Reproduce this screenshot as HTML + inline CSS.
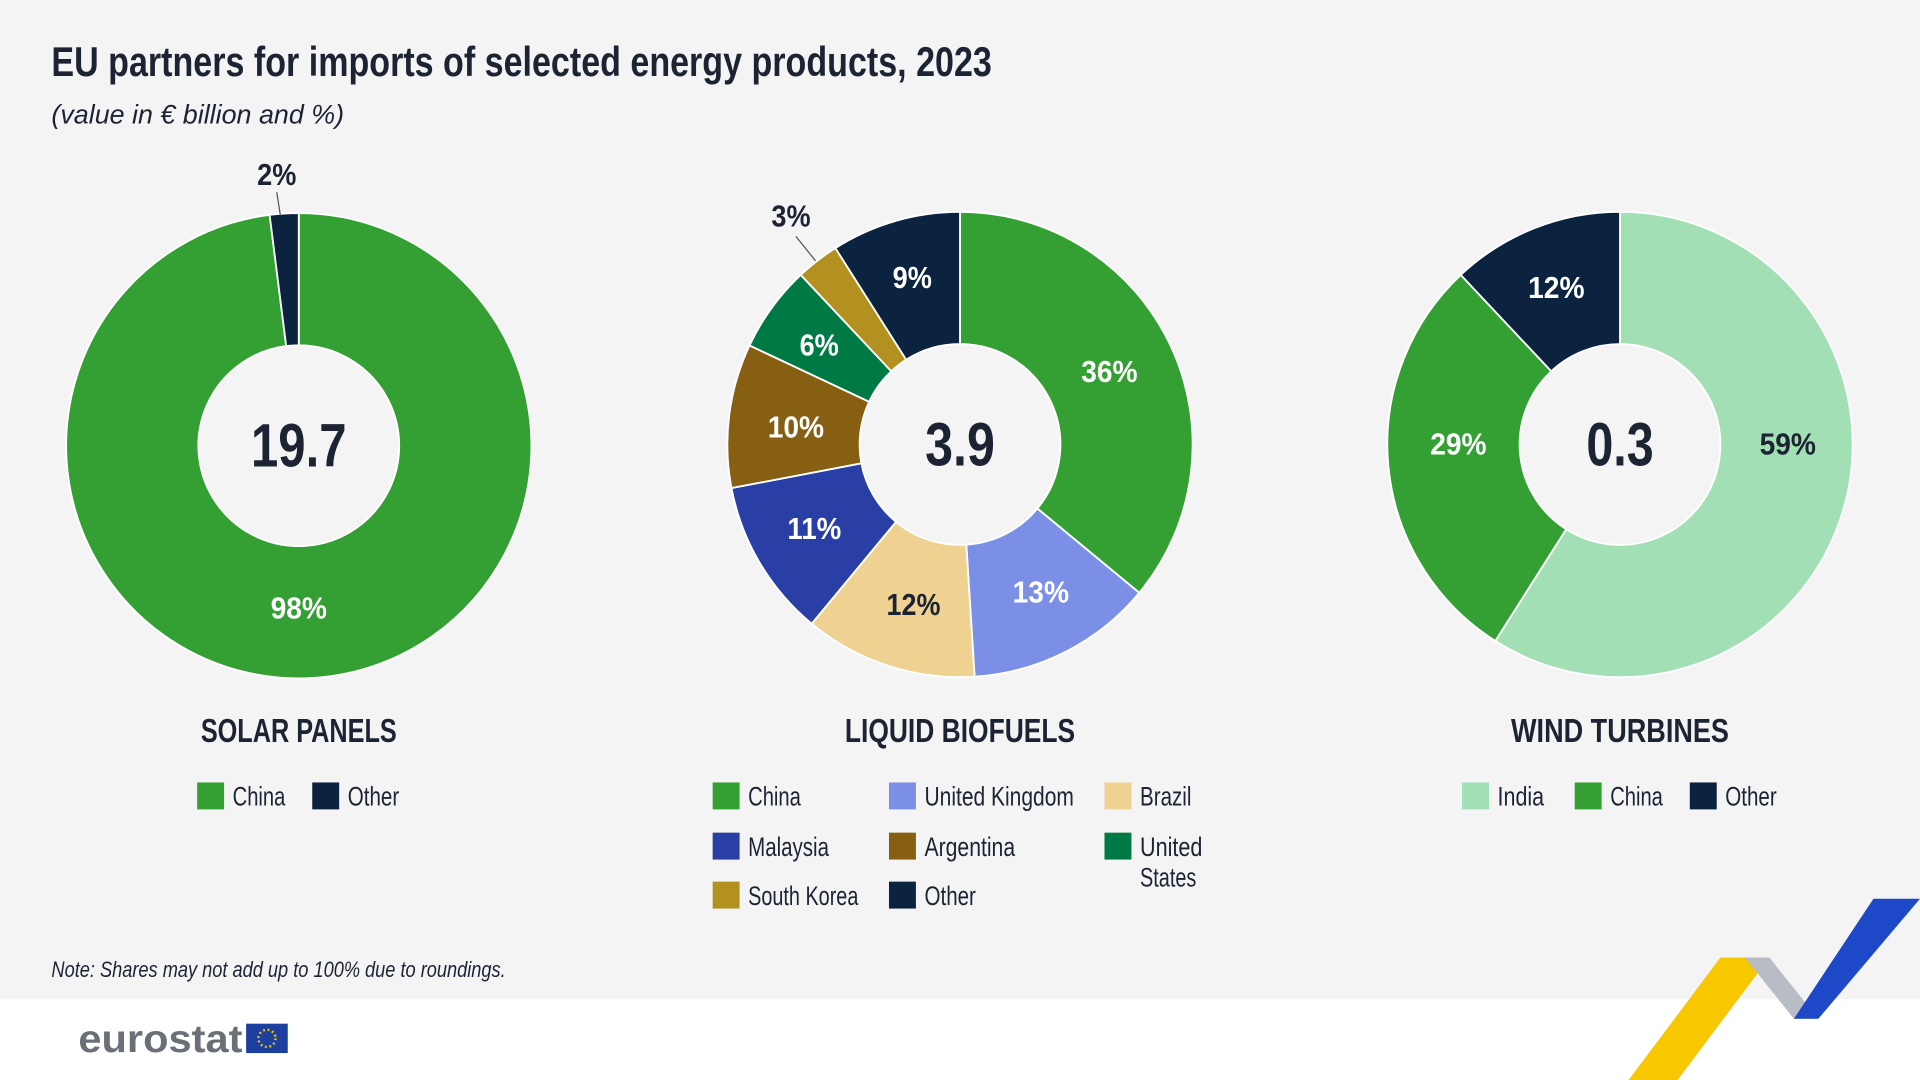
<!DOCTYPE html>
<html><head><meta charset="utf-8"><style>
html,body{margin:0;padding:0;background:#f4f4f4;}
svg{display:block;}
text{font-family:"Liberation Sans",sans-serif;fill:#1c2333;}
.b{font-weight:bold;}
.w{fill:#fff;font-weight:bold;font-size:25px;text-anchor:middle;dominant-baseline:central;}
.d{fill:#1c2333;font-weight:bold;font-size:25px;text-anchor:middle;dominant-baseline:central;}
.c{font-weight:bold;font-size:50px;text-anchor:middle;dominant-baseline:central;}
.h{font-weight:bold;font-size:27px;text-anchor:middle;}
.l{font-size:22px;}
</style></head><body>
<svg id="s" width="1920" height="1080" viewBox="0 0 1568 882" xmlns="http://www.w3.org/2000/svg">
<rect width="1568" height="882" fill="#f4f4f4"/>
<rect y="816" width="1568" height="66" fill="#ffffff"/>
<text x="42" y="62" class="b" font-size="34" textLength="768" lengthAdjust="spacingAndGlyphs">EU partners for imports of selected energy products, 2023</text>
<text x="42" y="101" font-size="22" font-style="italic" textLength="239" lengthAdjust="spacingAndGlyphs">(value in € billion and %)</text>
<g id="pies"></g>
<text x="244" y="364" class="c" textLength="78" lengthAdjust="spacingAndGlyphs">19.7</text>
<text x="784" y="363" class="c" textLength="57" lengthAdjust="spacingAndGlyphs">3.9</text>
<text x="1323" y="363" class="c" textLength="55" lengthAdjust="spacingAndGlyphs">0.3</text>
<text x="244" y="497" class="w" textLength="46" lengthAdjust="spacingAndGlyphs">98%</text>
<text x="226" y="143" class="d" textLength="32" lengthAdjust="spacingAndGlyphs">2%</text>
<line x1="226" y1="157" x2="229" y2="176" stroke="#555" stroke-width="1"/>
<text x="906" y="304" class="w" textLength="46" lengthAdjust="spacingAndGlyphs">36%</text>
<text x="850" y="484" class="w" textLength="46" lengthAdjust="spacingAndGlyphs">13%</text>
<text x="746" y="494" class="d" textLength="44" lengthAdjust="spacingAndGlyphs">12%</text>
<text x="665" y="432" class="w" textLength="44" lengthAdjust="spacingAndGlyphs">11%</text>
<text x="650" y="349" class="w" textLength="46" lengthAdjust="spacingAndGlyphs">10%</text>
<text x="669" y="282" class="w" textLength="32" lengthAdjust="spacingAndGlyphs">6%</text>
<text x="646" y="177" class="d" textLength="32" lengthAdjust="spacingAndGlyphs">3%</text>
<line x1="650" y1="193" x2="666" y2="213" stroke="#555" stroke-width="1"/>
<text x="745" y="227" class="w" textLength="32" lengthAdjust="spacingAndGlyphs">9%</text>
<text x="1460" y="363" class="d" textLength="46" lengthAdjust="spacingAndGlyphs">59%</text>
<text x="1191" y="363" class="w" textLength="46" lengthAdjust="spacingAndGlyphs">29%</text>
<text x="1271" y="235" class="w" textLength="46" lengthAdjust="spacingAndGlyphs">12%</text>
<text x="244" y="606" class="h" textLength="160" lengthAdjust="spacingAndGlyphs">SOLAR PANELS</text>
<text x="784" y="606" class="h" textLength="188" lengthAdjust="spacingAndGlyphs">LIQUID BIOFUELS</text>
<text x="1323" y="606" class="h" textLength="178" lengthAdjust="spacingAndGlyphs">WIND TURBINES</text>
<g class="l">
<rect x="161" y="639" width="22" height="22" fill="#34a034"/><text x="190" y="658" class="l" textLength="43" lengthAdjust="spacingAndGlyphs">China</text>
<rect x="255" y="639" width="22" height="22" fill="#0c2340"/><text x="284" y="658" class="l" textLength="42" lengthAdjust="spacingAndGlyphs">Other</text>
<rect x="582" y="639" width="22" height="22" fill="#34a034"/><text x="611" y="658" class="l" textLength="43" lengthAdjust="spacingAndGlyphs">China</text>
<rect x="726" y="639" width="22" height="22" fill="#7b8fe6"/><text x="755" y="658" class="l" textLength="122" lengthAdjust="spacingAndGlyphs">United Kingdom</text>
<rect x="902" y="639" width="22" height="22" fill="#efd291"/><text x="931" y="658" class="l" textLength="42" lengthAdjust="spacingAndGlyphs">Brazil</text>
<rect x="582" y="680" width="22" height="22" fill="#2a3fa6"/><text x="611" y="699" class="l" textLength="66" lengthAdjust="spacingAndGlyphs">Malaysia</text>
<rect x="726" y="680" width="22" height="22" fill="#875f12"/><text x="755" y="699" class="l" textLength="74" lengthAdjust="spacingAndGlyphs">Argentina</text>
<rect x="902" y="680" width="22" height="22" fill="#007a45"/><text x="931" y="699" class="l" textLength="51" lengthAdjust="spacingAndGlyphs">United</text><text x="931" y="724" class="l" textLength="46" lengthAdjust="spacingAndGlyphs">States</text>
<rect x="582" y="720" width="22" height="22" fill="#b39120"/><text x="611" y="739" class="l" textLength="90" lengthAdjust="spacingAndGlyphs">South Korea</text>
<rect x="726" y="720" width="22" height="22" fill="#0c2340"/><text x="755" y="739" class="l" textLength="42" lengthAdjust="spacingAndGlyphs">Other</text>
<rect x="1194" y="639" width="22" height="22" fill="#a3dfb5"/><text x="1223" y="658" class="l" textLength="38" lengthAdjust="spacingAndGlyphs">India</text>
<rect x="1286" y="639" width="22" height="22" fill="#34a034"/><text x="1315" y="658" class="l" textLength="43" lengthAdjust="spacingAndGlyphs">China</text>
<rect x="1380" y="639" width="22" height="22" fill="#0c2340"/><text x="1409" y="658" class="l" textLength="42" lengthAdjust="spacingAndGlyphs">Other</text>
</g>
<text x="42" y="798" font-size="18" font-style="italic" textLength="371" lengthAdjust="spacingAndGlyphs">Note: Shares may not add up to 100% due to roundings.</text>
<text x="64" y="859" font-size="32" font-weight="bold" textLength="134" lengthAdjust="spacingAndGlyphs" style="fill:#6b6f78">eurostat</text>
<rect x="201" y="836" width="34" height="24" fill="#1d3f9e"/>
<circle cx="218" cy="848" r="7" fill="none" stroke="#f2c300" stroke-width="2" stroke-dasharray="1.5 2.2"/>
<polygon points="1330,882 1405,782 1445,782 1370,882" fill="#f7c800"/>
<polygon points="1425,782 1445,782 1485,832 1465,832" fill="#b8bcc4"/>
<polygon points="1465,832 1530,734 1568,734 1485,832" fill="#1d48c8"/>
</svg>
<script>
function pie(cx,cy,R,r,vals,cols){
 var g=document.getElementById('pies'),a=0,tot=vals.reduce((x,y)=>x+y,0);
 vals.forEach(function(v,i){
  var a0=a/tot*2*Math.PI,a1=(a+v)/tot*2*Math.PI;a+=v;
  var p=function(rr,t){return [cx+rr*Math.sin(t),cy-rr*Math.cos(t)];};
  var o0=p(R,a0),o1=p(R,a1),i1=p(r,a1),i0=p(r,a0),lg=(a1-a0)>Math.PI?1:0;
  var d='M'+o0+' A'+R+','+R+' 0 '+lg+' 1 '+o1+' L'+i1+' A'+r+','+r+' 0 '+lg+' 0 '+i0+' Z';
  var e=document.createElementNS('http://www.w3.org/2000/svg','path');
  e.setAttribute('d',d);e.setAttribute('fill',cols[i]);e.setAttribute('stroke','#fff');e.setAttribute('stroke-width','1.5');
  g.appendChild(e);
 });
}
pie(244,364,190,82,[98,2],['#34a034','#0c2340']);
pie(784,363,190,82,[36,13,12,11,10,6,3,9],['#34a034','#7b8fe6','#efd291','#2a3fa6','#875f12','#007a45','#b39120','#0c2340']);
pie(1323,363,190,82,[59,29,12],['#a3dfb5','#34a034','#0c2340']);
</script>
</body></html>
